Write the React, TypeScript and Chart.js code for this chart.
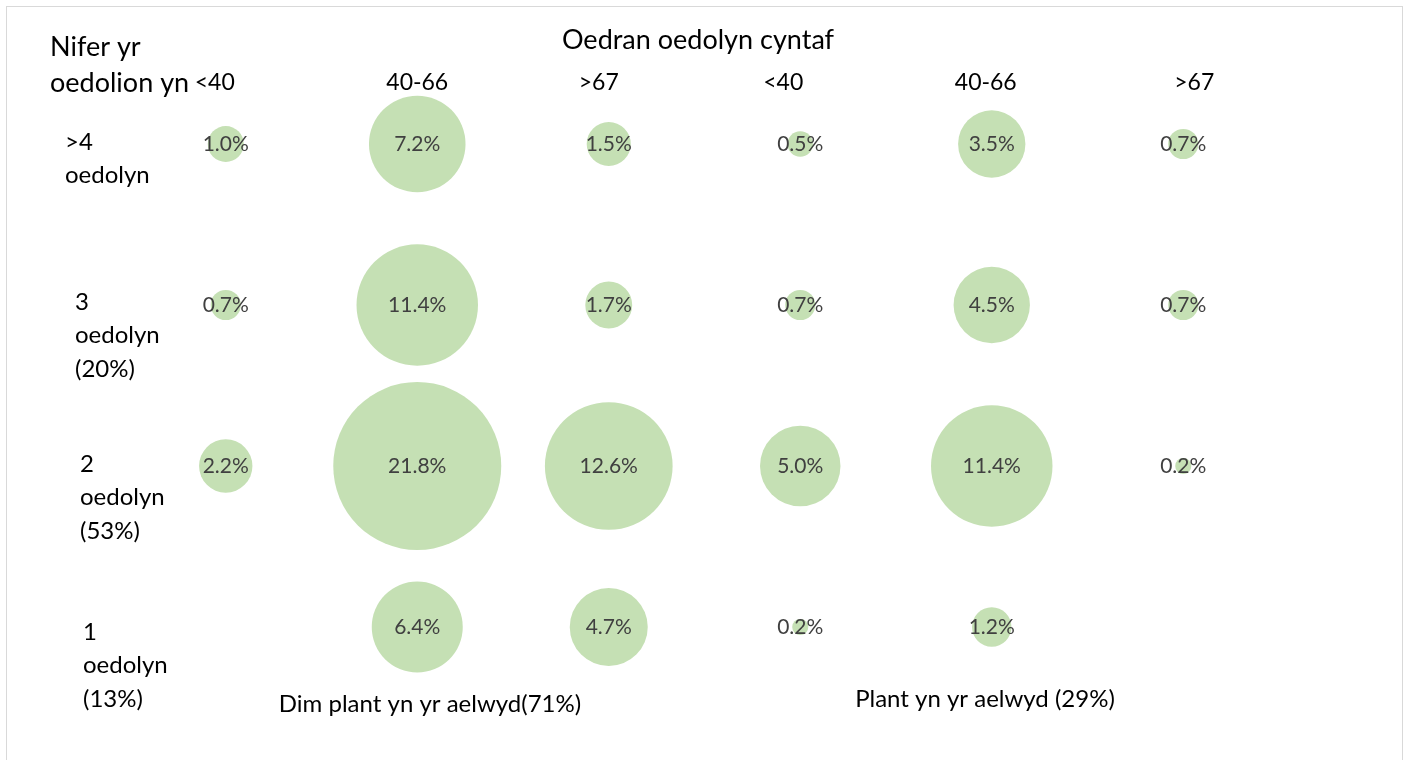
import React, { useEffect, useRef } from "react";
import { Chart, registerables } from "chart.js";

Chart.register(...registerables);

const columnLabels = ["<40", "40-66", ">67", "<40", "40-66", ">67"];
const rowValues = [4, 3, 2, 1];
const rowLabels = [[">4", "oedolyn"], ["3", "oedolyn", "(20%)"], ["2", "oedolyn", "(53%)"], ["1", "oedolyn", "(13%)"]];
const rowOver4 = [1.0, 7.2, 1.5, 0.5, 3.5, 0.7];
const row3 = [0.7, 11.4, 1.7, 0.7, 4.5, 0.7];
const row2 = [2.2, 21.8, 12.6, 5.0, 11.4, 0.2];
const row1 = [null, 6.4, 4.7, 0.2, 1.2, null];
const groupLabels = ["Dim plant yn yr aelwyd(71%)", "Plant yn yr aelwyd (29%)"];
const title = "Oedran oedolyn cyntaf";
const yTitle = ["Nifer yr", "oedolion yn"];

const FONT = "Lato, 'Open Sans', sans-serif";

export default function App() {
  const ref = useRef<HTMLCanvasElement>(null);
  useEffect(() => {
    const rows = [rowOver4, row3, row2, row1];
    const points: { x: number; y: number; r: number; v: number }[] = [];
    rows.forEach((vals, ri) => {
      vals.forEach((v, ci) => {
        if (v === null) return;
        points.push({ x: ci + 1, y: rowValues[ri], r: 17.99 * Math.sqrt(v), v });
      });
    });
    const textPlugin = {
      id: "texts",
      afterDatasetsDraw(chart: any) {
        const ctx = chart.ctx;
        const xs = chart.scales.x;
        const ys = chart.scales.y;
        ctx.save();
        ctx.textBaseline = "middle";
        // bubble labels
        ctx.fillStyle = "#404040";
        ctx.font = `21px ${FONT}`;
        ctx.textAlign = "center";
        chart.getDatasetMeta(0).data.forEach((el: any, i: number) => {
          ctx.fillText(points[i].v.toFixed(1) + "%", el.x, el.y);
        });
        ctx.fillStyle = "#000000";
        // title
        ctx.font = `27px ${FONT}`;
        ctx.fillText(title, 698, 40);
        // y title
        ctx.textAlign = "left";
        ctx.fillText(yTitle[0], 50, 47);
        ctx.fillText(yTitle[1], 50, 83);
        // column headers
        ctx.font = `23px ${FONT}`;
        ctx.textAlign = "center";
        const headerOffsets = [-11, 0, -10, -17, -6, 11];
        columnLabels.forEach((c, i) => {
          ctx.fillText(c, xs.getPixelForValue(i + 1) + headerOffsets[i], 83);
        });
        // row labels
        ctx.font = `24px ${FONT}`;
        ctx.textAlign = "left";
        const rowX = [65, 75, 80, 83];
        const rowDy = [-2, -3, -2, 5];
        rowLabels.forEach((lines, ri) => {
          const y0 = ys.getPixelForValue(rowValues[ri]) + rowDy[ri];
          lines.forEach((l, li) => ctx.fillText(l, rowX[ri], y0 + li * 33.5));
        });
        // group labels
        ctx.textAlign = "center";
        ctx.fillText(groupLabels[0], 430, 704);
        ctx.fillText(groupLabels[1], 985, 699);
        ctx.restore();
      },
    };
    const chart = new Chart(ref.current!, {
      type: "bubble",
      data: {
        datasets: [
          {
            data: points,
            backgroundColor: "#C5E0B4",
            borderWidth: 0,
            hoverBackgroundColor: "#C5E0B4",
          },
        ],
      },
      options: {
        responsive: false,
        animation: false,
        layout: { autoPadding: false, padding: { left: 130, right: 130, top: 63.5, bottom: 52.5 } },
        plugins: { legend: { display: false }, tooltip: { enabled: false } },
        scales: {
          x: { type: "linear", min: 0.5, max: 6.5, display: false },
          y: { type: "linear", min: 0.5, max: 4.5, display: false },
        },
      },
      plugins: [textPlugin],
    });
    return () => chart.destroy();
  }, []);
  return (
    <div style={{ position: "fixed", left: 0, top: 0, width: 1409, height: 760, overflow: "hidden", background: "#fff" }}>
      <div style={{ position: "absolute", left: 6, top: 6, width: 1397, height: 800, border: "1px solid #d9d9d9", boxSizing: "border-box" }} />
      <canvas ref={ref} width={1409} height={760} style={{ position: "absolute", left: 0, top: 0 }} />
    </div>
  );
}
